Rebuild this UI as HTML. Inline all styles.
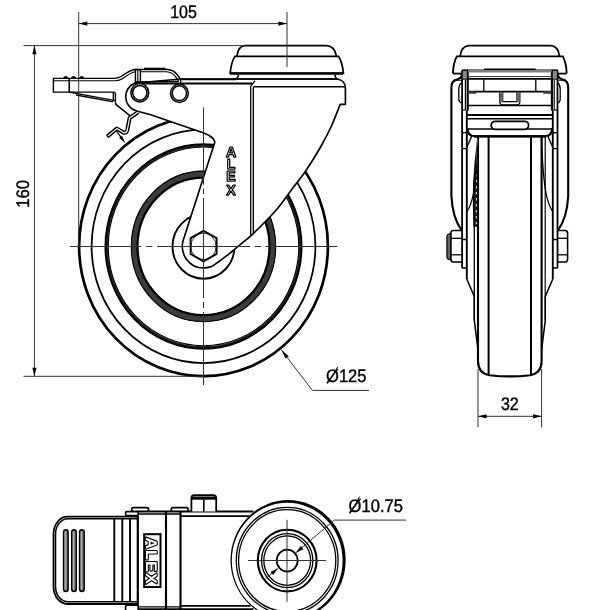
<!DOCTYPE html>
<html lang="en"><head><meta charset="utf-8"><title>Caster drawing</title>
<style>
html,body{margin:0;padding:0;background:#fff;}
body{width:600px;height:610px;overflow:hidden;}
svg{display:block;font-family:"Liberation Sans",sans-serif;will-change:transform;}
text{text-rendering:geometricPrecision;}
</style></head>
<body>
<svg width="600" height="610" viewBox="0 0 600 610">
<rect x="0" y="0" width="600" height="610" fill="#fff"/>
<g id="side-view">
<ellipse cx="203.50" cy="246.40" rx="124.40" ry="129.75" fill="none" stroke="#000" stroke-width="2.71" />
<ellipse cx="203.50" cy="246.40" rx="111.90" ry="116.71" fill="none" stroke="#000" stroke-width="1.77" />
<ellipse cx="203.50" cy="246.40" rx="96.60" ry="100.75" fill="none" stroke="#262626" stroke-width="2.0" />
<ellipse cx="203.50" cy="246.40" rx="98.00" ry="102.21" fill="none" stroke="#000" stroke-width="2.06" />
<ellipse cx="203.50" cy="246.40" rx="95.30" ry="99.40" fill="none" stroke="#000" stroke-width="1.18" />
<ellipse cx="203.50" cy="246.40" rx="69.40" ry="72.38" fill="none" stroke="#3c3c3c" stroke-width="6.4" />
<ellipse cx="203.50" cy="246.40" rx="72.20" ry="75.30" fill="none" stroke="#000" stroke-width="1.06" />
<ellipse cx="203.50" cy="246.40" rx="66.00" ry="68.84" fill="none" stroke="#000" stroke-width="2.24" />
<ellipse cx="203.50" cy="246.40" rx="31.00" ry="32.33" fill="none" stroke="#000" stroke-width="1.89" />
<path d="M 136.5,111 L 150,114.5 L 198.7,131.3 C 206,133.8 213.8,136.5 214.8,142.3 L 183.32,239.90 A 21.2 21.62 0 0 0 203.50,268.00 C 204.75,267.80 208.42,267.88 211.00,266.80 C 213.58,265.72 216.33,263.40 219.00,261.50 C 221.67,259.60 224.55,257.28 227.00,255.40 C 229.45,253.52 231.82,251.73 233.70,250.20 C 235.58,248.67 235.08,248.93 238.30,246.20 C 241.52,243.47 246.72,239.78 253.00,233.80 C 259.28,227.82 269.67,217.52 276.00,210.30 C 282.33,203.08 286.00,197.13 291.00,190.50 C 296.00,183.87 301.17,177.58 306.00,170.50 C 310.83,163.42 315.83,155.25 320.00,148.00 C 324.17,140.75 327.63,134.27 331.00,127.00 C 334.37,119.73 338.67,108.17 340.20,104.40 L 345.4,104.4 L 345.4,87.5 Q 345.0,80.5 337.3,79 L 181,79 L 135,83 A 14.8 14.8 0 0 0 136.5,111 Z" fill="#fff" stroke="#000" stroke-width="1.65" stroke-linejoin="round"/>
<line x1="134.50" y1="83.50" x2="252.00" y2="83.50" stroke="#000" stroke-width="1.77" />
<line x1="180.60" y1="79.30" x2="236.00" y2="79.30" stroke="#000" stroke-width="1.65" />
<line x1="180.60" y1="78.60" x2="180.60" y2="83.50" stroke="#000" stroke-width="1.42" />
<path d="M 250.7,235.6 L 250.7,86.5 L 255,80.6" fill="none" stroke="#000" stroke-width="1.24" />
<line x1="253.40" y1="86.70" x2="253.40" y2="233.20" stroke="#000" stroke-width="1.24" />
<line x1="252.05" y1="88.00" x2="252.05" y2="233.00" stroke="#999" stroke-width="1.4" />
<line x1="253.30" y1="86.70" x2="345.40" y2="86.70" stroke="#000" stroke-width="1.65" />
<path d="M 237.0,56.0 C 237.6,50.5 240,46.2 244.7,45.7 L 326.7,45.7 C 332.4,46.2 335.4,50.5 336.4,56.0" fill="#fff" stroke="#000" stroke-width="1.77" />
<path d="M 234.9,56.4 Q 231.1,62.5 230.2,73.2 L 343.4,73.2 Q 342.5,62.5 338.6,56.4 Z" fill="#fff" stroke="#000" stroke-width="1.77" />
<line x1="230.20" y1="73.60" x2="343.20" y2="73.60" stroke="#000" stroke-width="2.24" />
<path d="M 238.5,74.5 Q 238.5,78.5 234,79 " fill="none" stroke="#000" stroke-width="1.42" />
<path d="M 335,74.5 Q 335,78 337.3,79" fill="none" stroke="#000" stroke-width="1.42" />
<line x1="236.00" y1="79.00" x2="337.30" y2="79.00" stroke="#000" stroke-width="1.65" />
<ellipse cx="139.80" cy="92.80" rx="8.90" ry="9.20" fill="#fff" stroke="#000" stroke-width="1.53" />
<ellipse cx="139.80" cy="92.80" rx="7.10" ry="7.40" fill="none" stroke="#000" stroke-width="1.53" />
<ellipse cx="179.40" cy="93.20" rx="8.90" ry="9.20" fill="#fff" stroke="#000" stroke-width="1.53" />
<ellipse cx="179.40" cy="93.20" rx="7.10" ry="7.40" fill="none" stroke="#000" stroke-width="1.53" />
<path d="M 115.4,102.6 L 115.4,93.5 Q 115.2,92.1 113.6,92.1 L 53.4,92.1 L 53.4,78.4 L 114.5,78.4 Q 118.5,78.2 122,76.0 Q 130,70.2 134.5,69.5 L 167.5,69.5 Q 174,70.1 177.5,75 L 180.6,79.5" fill="none" stroke="#000" stroke-width="1.42" stroke-linejoin="round"/>
<path d="M 53.4,80.8 L 115,80.8 Q 119.5,80.6 123.2,78.2 Q 130.7,72.8 135,71.8" fill="none" stroke="#000" stroke-width="1.12" />
<path d="M 140.5,71.8 L 166.5,71.8 Q 172.3,72.4 175.6,76.6 L 178.4,81" fill="none" stroke="#000" stroke-width="1.12" />
<line x1="144.00" y1="68.60" x2="165.50" y2="68.60" stroke="#000" stroke-width="1.77" />
<line x1="69.20" y1="78.60" x2="69.20" y2="92.10" stroke="#000" stroke-width="1.53" />
<path d="M 63.4,78.3 Q 63.6,76.5 65.7,76.5 Q 67.8,76.5 68.0,78.3 Z" fill="#000" stroke="#000" stroke-width="0.94" />
<path d="M 71.4,78.3 Q 71.6,76.5 73.7,76.5 Q 75.8,76.5 76.0,78.3 Z" fill="#000" stroke="#000" stroke-width="0.94" />
<path d="M 79.4,78.3 Q 79.6,76.5 81.7,76.5 Q 83.8,76.5 84.0,78.3 Z" fill="#000" stroke="#000" stroke-width="0.94" />
<path d="M 69.2,92.1 L 115.2,100.6" fill="none" stroke="#000" stroke-width="1.42" />
<path d="M 76,95 L 113.3,101.8" fill="none" stroke="#000" stroke-width="1.3" />
<line x1="113.30" y1="92.50" x2="113.30" y2="100.20" stroke="#000" stroke-width="1.3" />
<path d="M 115.4,102.6 Q 115.5,104 116.8,105.2 L 130.8,116.3" fill="none" stroke="#000" stroke-width="1.53" />
<rect x="135.40" y="69.60" width="5.00" height="12.60" rx="0" fill="none" stroke="#000" stroke-width="1.42" />
<line x1="137.80" y1="70.00" x2="137.80" y2="82.00" stroke="#000" stroke-width="1.18" />
<line x1="135.40" y1="82.00" x2="179.00" y2="81.50" stroke="#000" stroke-width="1.53" />
<path d="M 138.3,112.1 L 129.6,118.0 L 127.3,130.0 Q 126.5,133.2 123.8,132.8 L 116.9,128.6 L 107.4,136.4" fill="none" stroke="#000" stroke-width="4.01" stroke-linejoin="round" stroke-linecap="butt"/>
<path d="M 138.3,112.1 L 129.6,118.0 L 127.3,130.0 Q 126.5,133.2 123.8,132.8 L 116.9,128.6 L 107.4,136.4" fill="none" stroke="#fff" stroke-width="1.2" stroke-linejoin="round" stroke-linecap="butt"/>
<line x1="106.60" y1="135.40" x2="108.30" y2="137.40" stroke="#000" stroke-width="1.18" />
<line x1="116.60" y1="131.20" x2="122.00" y2="138.60" stroke="#000" stroke-width="1.18" />
<polygon points="125.30,143.20 122.01,135.69 119.11,137.82" fill="#000"/>
<polygon points="203.5,230.9 216.6,238.2 216.6,253.9 203.5,261.4 190.6,253.9 190.6,238.2" fill="none" stroke="#000" stroke-width="1.9" stroke-linejoin="round"/>
<ellipse cx="203.50" cy="246.40" rx="12.60" ry="13.30" fill="none" stroke="#000" stroke-width="0.71" />
<text transform="translate(231.0,156.6) scale(1.0,1.0)" font-size="14.2" font-weight="bold" text-anchor="middle" fill="#fff" stroke="#000" stroke-width="1.25" stroke-linejoin="round">A</text>
<text transform="translate(231.0,168.5) scale(1.0,1.0)" font-size="14.2" font-weight="bold" text-anchor="middle" fill="#fff" stroke="#000" stroke-width="1.25" stroke-linejoin="round">L</text>
<text transform="translate(231.0,180.5) scale(1.0,1.0)" font-size="14.2" font-weight="bold" text-anchor="middle" fill="#fff" stroke="#000" stroke-width="1.25" stroke-linejoin="round">E</text>
<text transform="translate(231.0,194.5) scale(1.0,1.0)" font-size="14.2" font-weight="bold" text-anchor="middle" fill="#fff" stroke="#000" stroke-width="1.25" stroke-linejoin="round">X</text>
<line x1="70.00" y1="246.50" x2="141.20" y2="246.50" stroke="#333" stroke-width="1.0" />
<line x1="146.30" y1="246.50" x2="152.40" y2="246.50" stroke="#333" stroke-width="1.0" />
<line x1="157.20" y1="246.50" x2="250.00" y2="246.50" stroke="#333" stroke-width="1.0" />
<line x1="255.00" y1="246.50" x2="261.00" y2="246.50" stroke="#333" stroke-width="1.0" />
<line x1="265.50" y1="246.50" x2="337.50" y2="246.50" stroke="#333" stroke-width="1.0" />
<line x1="203.50" y1="107.40" x2="203.50" y2="184.80" stroke="#333" stroke-width="1.0" />
<line x1="203.50" y1="188.50" x2="203.50" y2="194.00" stroke="#333" stroke-width="1.0" />
<line x1="203.50" y1="198.00" x2="203.50" y2="298.00" stroke="#333" stroke-width="1.0" />
<line x1="203.50" y1="302.00" x2="203.50" y2="308.00" stroke="#333" stroke-width="1.0" />
<line x1="203.50" y1="312.00" x2="203.50" y2="385.00" stroke="#333" stroke-width="1.0" />
<line x1="287.00" y1="12.00" x2="287.00" y2="67.00" stroke="#333" stroke-width="1.0" />
<line x1="78.70" y1="12.00" x2="78.70" y2="246.00" stroke="#333" stroke-width="1.0" />
<line x1="78.70" y1="23.60" x2="287.00" y2="23.60" stroke="#333" stroke-width="1.0" />
<polygon points="78.70,23.60 87.30,25.70 87.30,21.50" fill="#000"/>
<polygon points="287.00,23.60 278.40,21.50 278.40,25.70" fill="#000"/>
<text transform="translate(183.50,17.70) rotate(0) scale(1.0,1.13)" font-size="16" text-anchor="middle" fill="#000" stroke="#000" stroke-width="0.35" >105</text>
<line x1="23.50" y1="45.60" x2="244.50" y2="45.60" stroke="#333" stroke-width="1.0" />
<line x1="23.50" y1="376.30" x2="203.00" y2="376.30" stroke="#333" stroke-width="1.0" />
<line x1="34.40" y1="45.60" x2="34.40" y2="376.30" stroke="#333" stroke-width="1.0" />
<polygon points="34.40,45.60 32.30,54.20 36.50,54.20" fill="#000"/>
<polygon points="34.40,376.30 36.50,367.70 32.30,367.70" fill="#000"/>
<text transform="translate(29.30,193.80) rotate(-90) scale(1.043,1.13)" font-size="16" text-anchor="middle" fill="#000" stroke="#000" stroke-width="0.35" >160</text>
<path d="M 281.3,349.8 L 312.4,390.4 L 369,390.4" fill="none" stroke="#333" stroke-width="1.0" />
<polygon points="281.30,349.80 285.49,358.56 288.66,356.13" fill="#000"/>
<text transform="translate(326.00,381.80) rotate(0) scale(1.035,1.13)" font-size="16" text-anchor="start" fill="#000" stroke="#000" stroke-width="0.35" >Ø125</text>
<line x1="327.20" y1="383.80" x2="337.80" y2="366.90" stroke="#111" stroke-width="1.0" />
</g>
<g id="front-view">
<path d="M 478.0,136.3 L 478.0,361.5 Q 478.3,373.5 489.5,375.2 Q 509.8,377.6 530.1,375.2 Q 541.3,373.5 541.6,361.5 L 541.6,136.3" fill="#fff" stroke="#000" stroke-width="2.12" />
<line x1="488.60" y1="136.30" x2="488.60" y2="375.20" stroke="#000" stroke-width="2.01" />
<line x1="531.00" y1="136.30" x2="531.00" y2="375.20" stroke="#000" stroke-width="2.01" />
<path d="M 460.2,56 C 460.8,50.5 463.5,46.2 468.8,45.7 L 550.8,45.7 C 556.1,46.2 558.8,50.5 559.4,56" fill="#fff" stroke="#000" stroke-width="1.77" />
<path d="M 452.9,73.4 Q 453.4,62.5 456.8,56.4 L 562.8,56.4 Q 566.2,62.5 566.7,73.4" fill="#fff" stroke="#000" stroke-width="1.89" />
<path d="M 462.2,230.6 L 453.2,230.6 Q 450.8,230.8 450.8,233.4 L 450.8,259.2 Q 450.8,261.8 453.2,262 L 462.2,262" fill="#fff" stroke="#000" stroke-width="1.53" />
<line x1="450.80" y1="238.30" x2="462.20" y2="238.30" stroke="#000" stroke-width="1.3" />
<line x1="450.80" y1="254.80" x2="462.20" y2="254.80" stroke="#000" stroke-width="1.3" />
<path d="M 450.8,233.8 L 448.6,234 Q 446.9,234.4 446.9,236.5 L 446.9,256.8 Q 446.9,259.2 448.6,259.5 L 450.8,259.7 Z" fill="#666" stroke="#000" stroke-width="1.18" />
<path d="M 557.4,230.6 L 565.2,230.6 Q 567.6,230.8 567.6,233.4 L 567.6,259.2 Q 567.6,261.8 565.2,262 L 557.4,262" fill="#fff" stroke="#000" stroke-width="1.53" />
<line x1="557.40" y1="238.30" x2="567.60" y2="238.30" stroke="#000" stroke-width="1.3" />
<line x1="557.40" y1="254.80" x2="567.60" y2="254.80" stroke="#000" stroke-width="1.3" />
<path d="M 461.30,73.6 L 462.00,75.6 L 460.20,78 L 457.00,79.6 Q 451.40,80.5 451.40,87.5 L 451.40,196 Q 452.50,218 461.80,230.6" fill="none" stroke="#000" stroke-width="2.12" />
<path d="M 462.00,82.6 Q 458.80,84.5 458.80,89 L 458.80,99.5 Q 459.10,102.6 462.00,103" fill="none" stroke="#000" stroke-width="1.3" />
<line x1="462.00" y1="80.20" x2="453.60" y2="80.20" stroke="#000" stroke-width="1.06" />
<line x1="462.10" y1="70.50" x2="462.10" y2="268.00" stroke="#000" stroke-width="1.77" />
<line x1="467.70" y1="70.50" x2="467.70" y2="110.50" stroke="#000" stroke-width="2.12" />
<line x1="466.80" y1="110.00" x2="466.80" y2="279.00" stroke="#000" stroke-width="1.89" />
<line x1="465.40" y1="80.00" x2="465.40" y2="110.00" stroke="#000" stroke-width="1.18" />
<rect x="462.20" y="70.20" width="5.20" height="9.00" rx="0" fill="#888" stroke="#000" stroke-width="0.94" />
<line x1="462.20" y1="110.00" x2="465.40" y2="110.00" stroke="#000" stroke-width="1.18" />
<line x1="462.20" y1="132.70" x2="466.80" y2="132.70" stroke="#000" stroke-width="1.3" />
<line x1="462.20" y1="148.60" x2="466.80" y2="148.60" stroke="#000" stroke-width="1.3" />
<path d="M 466.80,132.7 L 471.60,136.6 L 466.80,147.2" fill="none" stroke="#000" stroke-width="1.3" />
<path d="M 478,137 Q 475.0,160 473.6,185 Q 473.2,205 474.0,226 L 478,226 Z" fill="#1a1a1a" stroke="#000" stroke-width="1.3" />
<path d="M 477.6,139 L 476.6,170" fill="none" stroke="#fff" stroke-width="0.8" />
<path d="M 476.4,168 L 476.3,224" fill="none" stroke="#fff" stroke-width="0.9" stroke-dasharray="2.5 3.5"/>
<line x1="474.30" y1="224.00" x2="474.30" y2="320.30" stroke="#000" stroke-width="1.3" />
<path d="M 478.20,138 C 477.40,160 476.00,180 473.60,193 C 472.00,201 470.00,207 466.80,212" fill="none" stroke="#000" stroke-width="1.3" />
<path d="M 466.80,279 L 474.30,296.4 L 474.30,320.3 L 478.00,350" fill="none" stroke="#000" stroke-width="1.53" />
<path d="M 462.20,239.5 L 466.80,239.5 M 462.20,268 L 466.80,268" fill="none" stroke="#000" stroke-width="1.53" />
<path d="M 558.30,73.6 L 557.60,75.6 L 559.40,78 L 562.60,79.6 Q 568.20,80.5 568.20,87.5 L 568.20,196 Q 567.10,218 557.80,230.6" fill="none" stroke="#000" stroke-width="2.12" />
<path d="M 557.60,82.6 Q 560.20,84.5 560.20,89 L 560.20,99.5 Q 559.90,102.6 557.60,103" fill="none" stroke="#000" stroke-width="1.3" />
<line x1="557.60" y1="80.20" x2="566.00" y2="80.20" stroke="#000" stroke-width="1.06" />
<line x1="557.50" y1="70.50" x2="557.50" y2="268.00" stroke="#000" stroke-width="1.77" />
<line x1="551.90" y1="70.50" x2="551.90" y2="110.50" stroke="#000" stroke-width="2.12" />
<line x1="552.80" y1="110.00" x2="552.80" y2="279.00" stroke="#000" stroke-width="1.89" />
<line x1="554.20" y1="80.00" x2="554.20" y2="110.00" stroke="#000" stroke-width="1.18" />
<rect x="552.20" y="70.20" width="5.20" height="9.00" rx="0" fill="#888" stroke="#000" stroke-width="0.94" />
<line x1="557.40" y1="110.00" x2="554.20" y2="110.00" stroke="#000" stroke-width="1.18" />
<line x1="557.40" y1="132.70" x2="552.80" y2="132.70" stroke="#000" stroke-width="1.3" />
<line x1="557.40" y1="148.60" x2="552.80" y2="148.60" stroke="#000" stroke-width="1.3" />
<path d="M 552.80,132.7 L 548.00,136.6 L 552.80,147.2" fill="none" stroke="#000" stroke-width="1.3" />
<line x1="545.20" y1="137.00" x2="545.20" y2="320.30" stroke="#000" stroke-width="1.18" />
<path d="M 541.40,138 C 542.20,160 543.60,180 546.00,193 C 547.60,201 549.60,207 552.80,212" fill="none" stroke="#000" stroke-width="1.3" />
<path d="M 552.80,279 L 545.30,296.4 L 545.30,320.3 L 541.60,350" fill="none" stroke="#000" stroke-width="1.53" />
<path d="M 557.40,239.5 L 552.80,239.5 M 557.40,268 L 552.80,268" fill="none" stroke="#000" stroke-width="1.53" />
<line x1="484.00" y1="69.30" x2="535.60" y2="69.30" stroke="#000" stroke-width="1.42" />
<line x1="462.20" y1="70.00" x2="557.40" y2="70.00" stroke="#000" stroke-width="1.06" />
<line x1="468.00" y1="71.50" x2="551.60" y2="71.50" stroke="#808080" stroke-width="2.0" />
<line x1="467.40" y1="76.60" x2="552.20" y2="76.60" stroke="#333" stroke-width="1.0" />
<line x1="467.40" y1="78.80" x2="552.20" y2="78.80" stroke="#000" stroke-width="1.77" />
<line x1="483.80" y1="78.80" x2="483.80" y2="91.50" stroke="#000" stroke-width="1.3" />
<line x1="535.80" y1="78.80" x2="535.80" y2="91.50" stroke="#000" stroke-width="1.3" />
<line x1="467.40" y1="91.60" x2="552.20" y2="91.60" stroke="#000" stroke-width="1.77" />
<rect x="468.20" y="91.30" width="7.80" height="2.40" rx="0" fill="#444" stroke="#333" stroke-width="0.3" />
<rect x="543.60" y="91.30" width="7.80" height="2.40" rx="0" fill="#444" stroke="#333" stroke-width="0.3" />
<path d="M 499.8,91.6 L 499.8,102.3 Q 500,104.8 502.6,104.8 L 517,104.8 Q 519.6,104.8 519.8,102.3 L 519.8,91.6" fill="none" stroke="#000" stroke-width="1.3" />
<path d="M 502.7,91.6 L 502.7,101.6 L 516.9,101.6 L 516.9,91.6" fill="none" stroke="#000" stroke-width="1.18" />
<rect x="499.80" y="92.00" width="3.00" height="10.00" rx="0" fill="#666" stroke="#555" stroke-width="0.3" />
<rect x="516.60" y="92.00" width="3.20" height="10.00" rx="0" fill="#666" stroke="#555" stroke-width="0.3" />
<line x1="467.40" y1="105.60" x2="552.20" y2="105.60" stroke="#000" stroke-width="1.53" />
<line x1="467.40" y1="115.00" x2="552.20" y2="115.00" stroke="#000" stroke-width="2.24" />
<line x1="467.40" y1="118.70" x2="552.20" y2="118.70" stroke="#000" stroke-width="1.42" />
<line x1="467.40" y1="129.00" x2="552.20" y2="129.00" stroke="#000" stroke-width="1.53" />
<rect x="491.20" y="121.30" width="37.40" height="8.00" rx="4" fill="#fff" stroke="#000" stroke-width="1.77" />
<path d="M 467.4,128 Q 467.8,135.6 474.6,136.2 L 545,136.2 Q 551.8,135.6 552.2,128" fill="none" stroke="#000" stroke-width="1.89" />
<line x1="474.00" y1="136.40" x2="545.60" y2="136.40" stroke="#000" stroke-width="2.24" />
<line x1="452.90" y1="73.60" x2="461.50" y2="73.60" stroke="#000" stroke-width="1.77" />
<line x1="566.70" y1="73.60" x2="558.10" y2="73.60" stroke="#000" stroke-width="1.77" />
<line x1="478.00" y1="369.00" x2="478.00" y2="427.50" stroke="#333" stroke-width="1.0" />
<line x1="541.60" y1="369.00" x2="541.60" y2="427.50" stroke="#333" stroke-width="1.0" />
<line x1="478.00" y1="416.30" x2="541.60" y2="416.30" stroke="#333" stroke-width="1.0" />
<polygon points="478.00,416.30 486.60,418.40 486.60,414.20" fill="#000"/>
<polygon points="541.60,416.30 533.00,414.20 533.00,418.40" fill="#000"/>
<text transform="translate(509.80,410.20) rotate(0) scale(1.0,1.13)" font-size="16" text-anchor="middle" fill="#000" stroke="#000" stroke-width="0.35" >32</text>
</g>
<g id="top-view">
<path d="M 137.5,516.6 L 67.5,516.6 A 14 17.4 0 0 0 53.5,534 L 53.5,586.6 A 14 17.4 0 0 0 67.5,604.0 L 137.5,604.0" fill="#fff" stroke="#000" stroke-width="1.77" />
<path d="M 137.5,518.8 L 68,518.8 A 12.5 15.4 0 0 0 55.5,534.2 L 55.5,586.4 A 12.5 15.4 0 0 0 68,601.8 L 137.5,601.8" fill="none" stroke="#000" stroke-width="1.53" />
<rect x="63.65" y="529.70" width="4.40" height="61.80" rx="2.2" fill="#808080" stroke="#000" stroke-width="1.65" />
<line x1="65.05" y1="531.50" x2="65.05" y2="589.50" stroke="#ddd" stroke-width="0.8" />
<line x1="66.85" y1="531.50" x2="66.85" y2="589.50" stroke="#888" stroke-width="0.5" />
<rect x="71.80" y="529.70" width="4.40" height="61.80" rx="2.2" fill="#808080" stroke="#000" stroke-width="1.65" />
<line x1="73.20" y1="531.50" x2="73.20" y2="589.50" stroke="#ddd" stroke-width="0.8" />
<line x1="75.00" y1="531.50" x2="75.00" y2="589.50" stroke="#888" stroke-width="0.5" />
<rect x="79.70" y="529.70" width="4.40" height="61.80" rx="2.2" fill="#808080" stroke="#000" stroke-width="1.65" />
<line x1="81.10" y1="531.50" x2="81.10" y2="589.50" stroke="#ddd" stroke-width="0.8" />
<line x1="82.90" y1="531.50" x2="82.90" y2="589.50" stroke="#888" stroke-width="0.5" />
<line x1="114.30" y1="518.80" x2="114.30" y2="601.80" stroke="#000" stroke-width="1.89" />
<line x1="122.30" y1="518.80" x2="122.30" y2="601.80" stroke="#000" stroke-width="1.89" />
<line x1="130.00" y1="518.80" x2="130.00" y2="601.80" stroke="#000" stroke-width="1.89" />
<line x1="138.50" y1="511.50" x2="253.50" y2="511.50" stroke="#000" stroke-width="2.01" />
<line x1="138.50" y1="514.00" x2="180.50" y2="514.00" stroke="#000" stroke-width="1.3" />
<line x1="180.50" y1="516.20" x2="250.50" y2="516.20" stroke="#000" stroke-width="1.77" />
<line x1="138.50" y1="609.30" x2="253.50" y2="609.30" stroke="#000" stroke-width="2.01" />
<line x1="138.50" y1="606.80" x2="180.50" y2="606.80" stroke="#000" stroke-width="1.3" />
<line x1="180.50" y1="605.80" x2="250.50" y2="605.80" stroke="#000" stroke-width="1.77" />
<line x1="137.80" y1="515.60" x2="137.80" y2="606.00" stroke="#000" stroke-width="2.24" />
<line x1="166.00" y1="511.50" x2="166.00" y2="610.00" stroke="#000" stroke-width="2.12" />
<line x1="180.50" y1="511.50" x2="180.50" y2="610.00" stroke="#000" stroke-width="2.12" />
<rect x="125.60" y="511.60" width="12.60" height="4.00" rx="1" fill="#fff" stroke="#000" stroke-width="1.65" />
<rect x="125.60" y="605.20" width="12.60" height="6.00" rx="1" fill="#fff" stroke="#000" stroke-width="1.65" />
<rect x="131.60" y="507.60" width="17.00" height="3.60" rx="1.8" fill="#fff" stroke="#000" stroke-width="1.65" />
<rect x="171.20" y="507.60" width="17.00" height="3.60" rx="1.8" fill="#fff" stroke="#000" stroke-width="1.65" />
<path d="M 191.4,511.5 L 191.4,497.8 Q 191.6,495.2 194.4,495.2 L 213.2,495.2 Q 216,495.2 216.2,497.8 L 216.2,511.5" fill="#fff" stroke="#000" stroke-width="1.77" />
<rect x="191.80" y="496.60" width="24.00" height="3.00" rx="0" fill="#000" stroke="#000" stroke-width="0.24" />
<line x1="203.80" y1="499.40" x2="203.80" y2="511.50" stroke="#000" stroke-width="1.65" />
<rect x="144.20" y="534.20" width="16.30" height="52.80" rx="0" fill="#fff" stroke="#000" stroke-width="2.01" />
<text transform="translate(146.3,561.0) rotate(90) scale(1.043,1)" font-size="15.5" font-weight="bold" text-anchor="middle" letter-spacing="1.1" fill="#fff" stroke="#000" stroke-width="2.3" stroke-linejoin="round" paint-order="stroke">ALEX</text>
<ellipse cx="288.10" cy="560.10" rx="57.6" ry="60.0" fill="#fff"/>
<path d="M 230.50,560.10 A 57.60 60.00 0 1 0 345.70,560.10 A 57.60 60.00 0 1 0 230.50,560.10 Z M 231.80,560.60 A 55.40 57.80 0 1 0 342.60,560.60 A 55.40 57.80 0 1 0 231.80,560.60 Z" fill="#000" fill-rule="evenodd"/>
<ellipse cx="287.20" cy="560.60" rx="50.90" ry="53.20" fill="none" stroke="#000" stroke-width="1.3" />
<ellipse cx="287.20" cy="560.60" rx="48.60" ry="50.90" fill="none" stroke="#000" stroke-width="1.3" />
<ellipse cx="287.20" cy="560.60" rx="29.40" ry="30.80" fill="none" stroke="#000" stroke-width="2.12" />
<ellipse cx="287.20" cy="560.60" rx="25.70" ry="27.00" fill="none" stroke="#000" stroke-width="1.3" />
<ellipse cx="287.20" cy="560.60" rx="23.40" ry="24.70" fill="none" stroke="#000" stroke-width="1.3" />
<ellipse cx="287.20" cy="560.60" rx="10.50" ry="11.00" fill="none" stroke="#000" stroke-width="1.77" />
<line x1="248.00" y1="560.50" x2="326.00" y2="560.50" stroke="#333" stroke-width="1.0" />
<line x1="287.00" y1="519.80" x2="287.00" y2="601.80" stroke="#333" stroke-width="1.0" />
<path d="M 296.5,552.3 L 334.4,520.1 L 406,520.1" fill="none" stroke="#333" stroke-width="1.0" />
<line x1="265.50" y1="578.90" x2="277.50" y2="568.70" stroke="#333" stroke-width="1.0" />
<polygon points="295.60,553.10 303.44,549.20 300.72,546.00" fill="#000"/>
<polygon points="278.30,568.00 270.46,571.90 273.18,575.10" fill="#000"/>
<text transform="translate(348.60,512.00) rotate(0) scale(1.035,1.13)" font-size="16" text-anchor="start" fill="#000" stroke="#000" stroke-width="0.35" >Ø10.75</text>
<line x1="350.00" y1="513.80" x2="359.60" y2="496.50" stroke="#111" stroke-width="1.0" />
</g>
</svg>
</body></html>
